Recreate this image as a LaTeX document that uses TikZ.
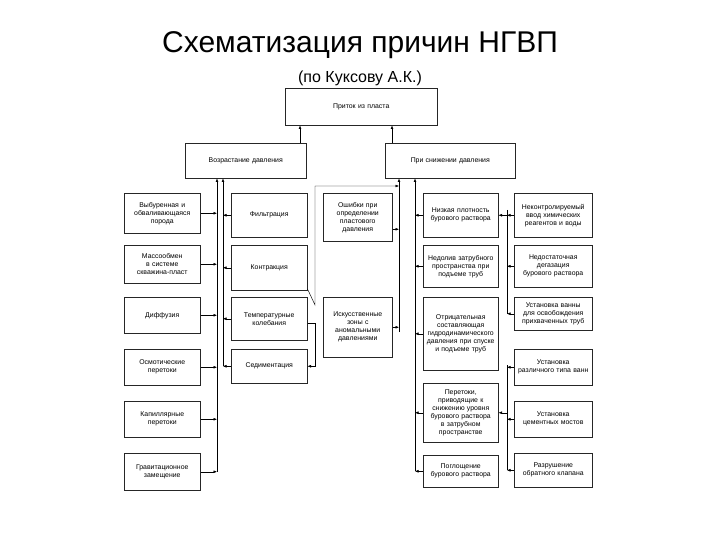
\documentclass[tikz,border=0pt]{standalone}
\usepackage{fontspec}
\setmainfont{Liberation Sans}
\usetikzlibrary{arrows.meta}
\begin{document}
\begin{tikzpicture}[x=1pt,y=-1pt,
  bx/.style={draw=black!85,line width=0.5pt,anchor=north west,inner sep=1pt,align=center,font=\fontsize{6.9}{8}\selectfont,fill=white},
  ar/.style={-{Latex[length=3.5pt,width=2.8pt]},line width=0.45pt},
  ln/.style={line width=0.45pt}]
\useasboundingbox (0,0) rectangle (720,540);
\newcommand{\bb}[6]{\node[bx,minimum width=#3pt,minimum height=#4pt,text width=#5pt] (#1) at (#2) {#6};}
\node (title) at (360,45) {\fontsize{30}{34}\selectfont Схематизация причин НГВП};
\node (sub) at (360,78) {\fontsize{16}{18}\selectfont (по Куксову А.К.)};
\bb{top}{285,88}{152}{37}{140}{Приток из пласта}
\bb{lp}{185,143}{121}{35}{110}{Возрастание давления}
\bb{rp}{385,143}{130}{35}{118}{При снижении давления}
% left column
\bb{a1}{124,193}{76}{40}{70}{Выбуренная и обваливающаяся порода}
\bb{a2}{124,245}{76}{38}{72}{Массообмен в системе скважина-пласт}
\bb{a3}{124,297}{76}{36}{70}{Диффузия}
\bb{a4}{124,349}{76}{36}{60}{Осмотические перетоки}
\bb{a5}{124,401}{76}{36}{60}{Капиллярные перетоки}
\bb{a6}{124,453}{76}{37}{70}{Гравитационное замещение}
% second column
\bb{b1}{231,193}{76}{44}{70}{Фильтрация}
\bb{b2}{231,245}{76}{45}{70}{Контракция}
\bb{b3}{231,297}{76}{43}{64}{Температурные колебания}
\bb{b4}{231,349}{76}{34}{70}{Седиментация}
% middle
\bb{c1}{323,193}{69}{48}{56}{Ошибки при определении пластового давления}
\bb{c2}{323,297}{69}{60}{58}{Искусственные зоны с аномальными давлениями}
% right-middle
\bb{d1}{423,193}{75}{44}{70}{Низкая плотность бурового раствора}
\bb{d2}{423,245}{75}{42}{72}{Недолив затрубного пространства при подъеме труб}
\bb{d3}{423,297}{75}{73}{72}{Отрицательная составляющая гидродинамического давления при спуске и подъеме труб}
\bb{d4}{423,383}{75}{59}{72}{Перетоки, приводящие к снижению уровня бурового раствора в затрубном пространстве}
\bb{d5}{423,455}{75}{32}{72}{Поглощение бурового раствора}
% right
\bb{e1}{514,193}{78}{44}{74}{Неконтролируемый ввод химических реагентов и воды}
\bb{e2}{514,245}{78}{42}{74}{Недостаточная дегазация бурового раствора}
\bb{e3}{514,297}{78}{33}{76}{Установка ванны для освобождения прихваченных труб}
\bb{e4}{514,349}{78}{36}{76}{Установка различного типа ванн}
\bb{e5}{514,401}{78}{36}{76}{Установка цементных мостов}
\bb{e6}{514,453}{78}{34}{76}{Разрушение обратного клапана}
% coordinates for buses
\coordinate (vA) at (217,490);
\coordinate (vB) at (223,366);
\coordinate (vC) at (399,332);
\coordinate (vD) at (415,471);
\coordinate (vE) at (507,210);
\coordinate (vF) at (507,365);
% up arrows
\draw[ar] (lp.north -| 300,0) -- (top.south -| 300,0);
\draw[ar] (rp.north -| 392,0) -- (top.south -| 392,0);
\draw[ar] (a6.east -| vA) -- (lp.south -| vA);
\draw[ar] (b4.west -| vB) -- (lp.south -| vB);
\draw[ar] (d5.west -| vD) -- (rp.south -| vD);
\draw[ar] (vC) -- (rp.south -| vC);
% left inputs
\foreach \n in {a1,a2,a3,a4,a5,a6} \draw[ar] (\n.east) -- (\n.east -| vA);
\foreach \n in {b1,b2,b3,b4} \draw[ar] (\n.west) -- (\n.west -| vB);
% temperature to sedimentation
\draw[ar] ([yshift=-4pt]b3.east) -- ++(8,0) |- (b4.east);
% temperature to pressure drop
\coordinate (tt) at (315,186);
\draw[ar] ([yshift=8pt]b3.north east) -- (315,305) -- (tt) -- (tt -| vC);
\draw[ar] (c1.east) ++(0,12) coordinate (c1p) (c1p) -- (c1p -| vC);
\draw[ar] (c2.east) -- (c2.east -| vC);
% right-middle
\foreach \n in {d1,d2,d3,d4,d5} \draw[ar] (\n.west) -- (\n.west -| vD);
% right groups
\draw[ln] (vE) -- (e3.west -| vE);
\draw[ar] (vE |- d1.east) -- (d1.east);
\foreach \n in {e1,e2,e3} \draw[ar] (\n.west) -- (\n.west -| vE);
\draw[ln] (vF) -- (e6.west -| vF);
\draw[ar] (vF |- d4.east) -- (d4.east);
\foreach \n in {e4,e5,e6} \draw[ar] (\n.west) -- (\n.west -| vF);
\end{tikzpicture}
\end{document}
